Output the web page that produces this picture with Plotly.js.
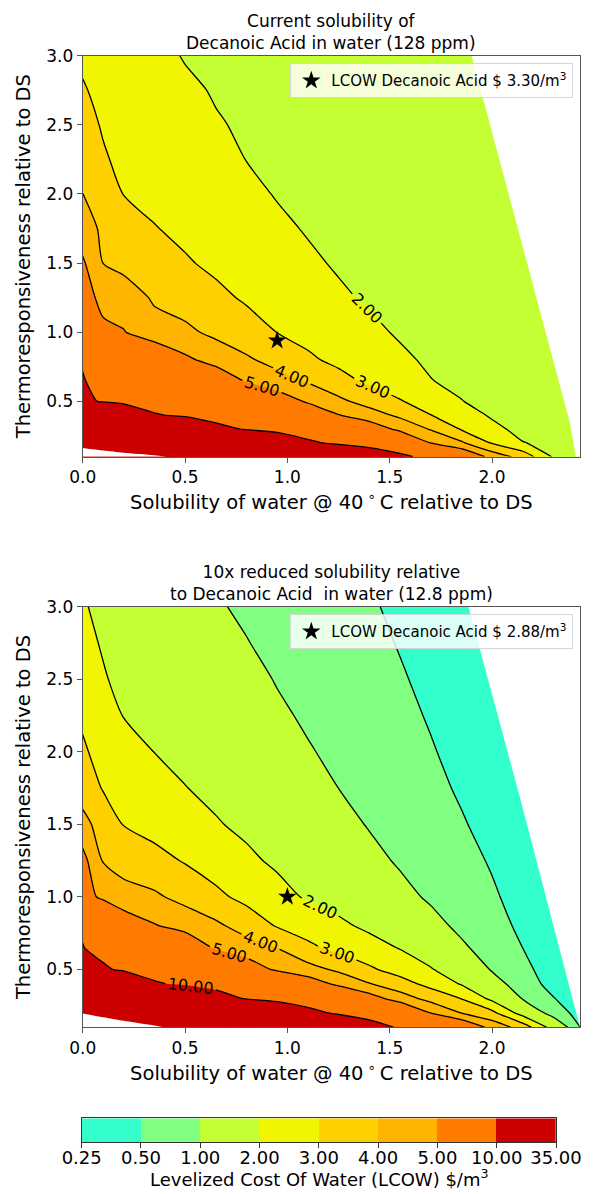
<!DOCTYPE html>
<html>
<head>
<meta charset="utf-8">
<script src="https://cdn.plot.ly/plotly-3.0.1.min.js"></script>
<style>
html,body{margin:0;padding:0;background:#ffffff;}
#chart{width:608px;height:1194px;}
</style>
</head>
<body>
<div id="chart"></div>
<script>
// ---------------- data ----------------
const levels = [0.25, 0.5, 1, 2, 3, 4, 5, 10, 35];
const levelLabels = ['0.25', '0.50', '1.00', '2.00', '3.00', '4.00', '5.00', '10.00', '35.00'];
const bandColors = ['#33ffcc', '#80ff80', '#c4ff33', '#f2f500', '#ffd000', '#ffb400', '#ff7b00', '#cc0000'];

// solubility of water @ 40C relative to DS (x) and thermoresponsiveness (y)
const xSolubility = [0, 0.1, 0.2, 0.35, 0.5, 0.65, 0.8, 0.95, 1.1, 1.25, 1.4, 1.55, 1.7, 1.85, 2.0, 2.15, 2.3, 2.45];
const yThermo = [0.1, 0.2, 0.3, 0.4, 0.5, 0.65, 0.8, 1.0, 1.25, 1.5, 1.75, 2.0, 2.25, 2.5, 2.75, 3.0];

// LCOW ($/m3), current solubility (128 ppm); rows follow yThermo, columns follow xSolubility
const lcowCurrent = [
  [40, 39, 37.8, 36.2, 33.1, 30, 26.8, 23.7, 20.5, 17.4, 14.2, 11.1, 8.5, 6.2, 4.63, 3.63, 1.9, 1.6],
  [32, 30, 28, 25, 22, 19.5, 17, 14, 10.8, 9.11, 7.74, 6.37, 4.98, 4.15, 2.92, 2.03, 1.8, 1.6],
  [27, 24.5, 22, 18.5, 15, 11.2, 9.67, 8.68, 7.68, 6.68, 5.68, 4.75, 3.93, 2.93, 2.22, 1.75, 1.62, 1.5],
  [19, 16, 13, 10.3, 9.39, 8.52, 7.65, 6.78, 5.91, 5.05, 4.44, 3.81, 3.02, 2.41, 1.9, 1.7, 1.55, 1.45],
  [10.5, 9.8, 9.35, 8.6, 7.86, 7.11, 6.36, 5.61, 4.88, 4.22, 3.63, 3.07, 2.55, 2.02, 1.8, 1.62, 1.5, 1.4],
  [10.1, 9.43, 8.77, 7.78, 6.79, 5.79, 4.9, 4.4, 3.89, 3.32, 2.82, 2.42, 2.02, 1.85, 1.7, 1.58, 1.48, 1.4],
  [9.87, 8.97, 8.07, 6.3, 5.2, 4.64, 4.15, 3.65, 3.16, 2.78, 2.45, 2.12, 1.9, 1.78, 1.67, 1.57, 1.48, 1.4],
  [6.5, 5.12, 5.06, 4.3, 4.21, 3.78, 3.38, 2.99, 2.7, 2.42, 2.14, 1.93, 1.82, 1.72, 1.63, 1.55, 1.47, 1.4],
  [5.25, 4.84, 4.43, 3.9, 3.55, 3.21, 2.89, 2.63, 2.37, 2.1, 1.92, 1.83, 1.75, 1.67, 1.6, 1.53, 1.46, 1.4],
  [5.15, 3.99, 3.77, 3.43, 3.09, 2.82, 2.59, 2.35, 2.11, 1.93, 1.84, 1.77, 1.7, 1.64, 1.58, 1.52, 1.46, 1.4],
  [4.4, 3.84, 3.52, 3.04, 2.8, 2.58, 2.35, 2.13, 1.95, 1.87, 1.8, 1.73, 1.67, 1.61, 1.56, 1.5, 1.45, 1.4],
  [4.01, 3.46, 2.98, 2.77, 2.56, 2.36, 2.16, 1.96, 1.88, 1.81, 1.75, 1.69, 1.63, 1.58, 1.53, 1.48, 1.43, 1.38],
  [3.5, 3.06, 2.87, 2.65, 2.43, 2.21, 1.99, 1.9, 1.83, 1.77, 1.71, 1.66, 1.61, 1.56, 1.51, 1.46, 1.41, 1.37],
  [3.2, 2.95, 2.78, 2.54, 2.29, 2.05, 1.92, 1.85, 1.78, 1.72, 1.67, 1.62, 1.58, 1.53, 1.49, 1.44, 1.4, 1.36],
  [3.05, 2.85, 2.67, 2.39, 2.12, 1.95, 1.87, 1.8, 1.74, 1.69, 1.64, 1.59, 1.55, 1.51, 1.47, 1.42, 1.38, 1.34],
  [2.9, 2.7, 2.5, 2.2, 1.96, 1.88, 1.82, 1.76, 1.71, 1.66, 1.61, 1.57, 1.53, 1.49, 1.45, 1.41, 1.37, 1.33]
];

// LCOW ($/m3), 10x reduced solubility (12.8 ppm)
const lcowReduced = [
  [42, 40.5, 38.7, 36.1, 32.7, 29.3, 25.9, 22.5, 19.1, 15.7, 12.3, 9.44, 7.78, 6.11, 4.67, 3.58, 1.57, 0.35],
  [34.7, 32.6, 30.5, 27.3, 24.1, 21, 17.8, 14.7, 11.5, 9.26, 7.84, 6.42, 4.98, 3.98, 3.25, 1.559, 0.75, 0.27],
  [28, 25.6, 23.2, 19.5, 15.8, 12.2, 9.58, 8.56, 7.53, 6.5, 5.48, 4.47, 3.65, 2.963, 1.749, 0.961, 0.515, 0.27],
  [19, 16, 13, 10.4, 9.4, 8.45, 7.51, 6.57, 5.63, 4.76, 4.05, 3.4, 2.7, 1.929, 1.222, 0.733, 0.345, 0.27],
  [11.2, 10.34, 9.6, 8.61, 7.62, 6.62, 5.63, 4.82, 4.35, 3.82, 3.15, 2.59, 2.057, 1.49, 0.953, 0.618, 0.283, 0.27],
  [10.07, 9.23, 8.39, 7.13, 5.87, 4.86, 4.43, 3.98, 3.21, 2.72, 2.34, 1.948, 1.514, 1.081, 0.775, 0.498, 0.387, 0.28],
  [9.74, 7.5, 5.8, 5.07, 4.64, 4.19, 3.59, 2.93, 2.553, 2.176, 1.825, 1.498, 1.17, 0.8875, 0.653, 0.419, 0.325, 0.27],
  [5.6, 4.7, 4.3, 4.15, 3.7, 3.21, 2.738, 2.28, 1.903, 1.654, 1.404, 1.155, 0.928, 0.739, 0.55, 0.361, 0.286, 0.27],
  [5.33, 3.94, 3.69, 3.31, 2.928, 2.544, 2.159, 1.861, 1.623, 1.385, 1.147, 0.94, 0.782, 0.623, 0.465, 0.402, 0.339, 0.276],
  [4.35, 3.53, 2.964, 2.664, 2.364, 2.064, 1.827, 1.608, 1.388, 1.168, 0.966, 0.821, 0.676, 0.531, 0.386, 0.328, 0.28, 0.27],
  [3.5, 2.942, 2.712, 2.366, 2.021, 1.81, 1.607, 1.406, 1.202, 0.998, 0.864, 0.728, 0.592, 0.456, 0.402, 0.348, 0.294, 0.27],
  [3.09, 2.772, 2.452, 1.989, 1.798, 1.607, 1.417, 1.226, 1.036, 0.899, 0.775, 0.651, 0.526, 0.402, 0.352, 0.302, 0.27, 0.27],
  [2.9, 2.38, 1.969, 1.791, 1.613, 1.435, 1.257, 1.078, 0.935, 0.819, 0.703, 0.587, 0.471, 0.425, 0.379, 0.333, 0.29, 0.27],
  [2.159, 2.032, 1.905, 1.714, 1.524, 1.334, 1.143, 0.973, 0.863, 0.752, 0.642, 0.532, 0.421, 0.377, 0.333, 0.29, 0.27, 0.27],
  [2.104, 1.967, 1.831, 1.627, 1.422, 1.218, 1.014, 0.902, 0.797, 0.691, 0.586, 0.481, 0.439, 0.397, 0.355, 0.313, 0.28, 0.27],
  [2.04, 1.893, 1.746, 1.525, 1.304, 1.038, 0.938, 0.837, 0.737, 0.637, 0.536, 0.436, 0.396, 0.356, 0.316, 0.28, 0.27, 0.27]
];

// edge of the feasible region (right side, white beyond it)
const feasibleEdgeCurrentX = [1.9, 2.17, 2.317, 2.38, 2.41];
const feasibleEdgeCurrentY = [3.0, 1.51, 0.71, 0.35, 0.1];
const feasibleEdgeReducedX = [1.885, 2.137, 2.43];
const feasibleEdgeReducedY = [3.0, 1.682, 0.1];

// Decanoic acid reference point
const starCurrentX = [0.95];
const starCurrentY = [0.94];
const starReducedX = [1.0];
const starReducedY = [1.0];
const legendCurrent = 'LCOW Decanoic Acid $ 3.30/m<sup>3</sup>';
const legendReduced = 'LCOW Decanoic Acid $ 2.88/m<sup>3</sup>';

// contour lines drawn, and which carry a label
const linesCurrent = [2, 3, 4, 5, 10];
const labelledCurrent = [2, 3, 4, 5];
const linesReduced = [0.5, 1, 2, 3, 4, 5, 10];
const labelledReduced = [2, 3, 4, 5, 10];

const titleCurrent = 'Current solubility of<br>Decanoic Acid in water (128 ppm)';
const titleReduced = '10x reduced solubility relative<br>to Decanoic Acid\u00a0 in water (12.8 ppm)';
const xTitle = 'Solubility of water @ 40\u2009<sup>\u2218</sup>\u2009C relative to DS';
const yTitle = 'Thermoresponsiveness relative to DS';
const cbTitle = 'Levelized Cost Of Water (LCOW) $/m<sup>3</sup>';

const xRange = [0, 2.43];
const yRange = [0.1, 3.0];

// ---------------- styling / layout ----------------
const W = 608, H = 1194;
const FONT = 'DejaVu Sans, Verdana, sans-serif';
const px2x = p => p / W;
const py2y = p => 1 - p / H;

// stepped colour scale for fill contours (levels every 0.25 from 0.25 to 35)
const cStart = levels[0], cEnd = levels[levels.length - 1], cSize = 0.25;
const nc = Math.round((cEnd - cStart) / cSize) + 1;
const pOf = z => (z - cStart + cSize / 2) / (nc * cSize);
const fillScale = [];
let prevP = 0;
for (let i = 0; i < bandColors.length; i++) {
  const hi = pOf(levels[i + 1]);
  fillScale.push([prevP, bandColors[i]]);
  fillScale.push([hi, bandColors[i]]);
  prevP = hi;
}
fillScale.push([prevP, '#ffffff']);
fillScale.push([1, '#ffffff']);

const SMOOTH = 0.7;

function contourTraces(z, lineLevels, labelled, xa, ya) {
  const out = [];
  out.push({
    type: 'contour', x: xSolubility, y: yThermo, z: z, xaxis: xa, yaxis: ya,
    autocontour: false,
    contours: {start: cStart, end: cEnd, size: cSize, coloring: 'fill', showlines: false},
    colorscale: fillScale, showscale: false,
    line: {width: 0, smoothing: SMOOTH}, hoverinfo: 'skip', showlegend: false
  });
  lineLevels.forEach(L => {
    out.push({
      type: 'contour', x: xSolubility, y: yThermo, z: z, xaxis: xa, yaxis: ya,
      autocontour: false,
      contours: {start: L, end: L, size: 1, coloring: 'none',
        showlabels: labelled.indexOf(L) >= 0, labelformat: '.2f',
        labelfont: {family: FONT, size: 16, color: '#000'}},
      line: {color: '#000', width: 1.3, smoothing: SMOOTH},
      showscale: false, hoverinfo: 'skip', showlegend: false
    });
  });
  return out;
}

function maskTrace(ex, ey, xa, ya) {
  const xs = ex.slice(), ys = ey.slice();
  xs.push(xRange[1] + 0.1, xRange[1] + 0.1);
  ys.push(yRange[0], yRange[1]);
  return {type: 'scatter', mode: 'lines', x: xs, y: ys, fill: 'toself',
    fillcolor: '#ffffff', line: {width: 0, color: '#ffffff'},
    xaxis: xa, yaxis: ya, hoverinfo: 'skip', showlegend: false};
}

function starTrace(sx, sy, name, xa, ya, lg) {
  return {type: 'scatter', mode: 'markers', x: sx, y: sy, name: name,
    marker: {symbol: 'star', size: 14, color: '#000'},
    xaxis: xa, yaxis: ya, legend: lg, showlegend: true, hoverinfo: 'skip'};
}

const traces = [].concat(
  contourTraces(lcowCurrent, linesCurrent, labelledCurrent, 'x', 'y'),
  [maskTrace(feasibleEdgeCurrentX, feasibleEdgeCurrentY, 'x', 'y')],
  [starTrace(starCurrentX, starCurrentY, legendCurrent, 'x', 'y', 'legend')],
  contourTraces(lcowReduced, linesReduced, labelledReduced, 'x2', 'y2'),
  [maskTrace(feasibleEdgeReducedX, feasibleEdgeReducedY, 'x2', 'y2')],
  [starTrace(starReducedX, starReducedY, legendReduced, 'x2', 'y2', 'legend2')]
);

// colour bar drawn as a one-row heatmap
const bandIndex = bandColors.map((c, i) => i);
traces.push({
  type: 'heatmap', x: bandIndex.map(i => i + 0.5), y: [0], z: [bandIndex],
  colorscale: bandColors.map((c, i) => [i / (bandColors.length - 1), c]),
  zmin: 0, zmax: bandColors.length - 1, showscale: false,
  xaxis: 'x3', yaxis: 'y3', hoverinfo: 'skip', showlegend: false
});

const axisLine = '#555555';
const common = {
  showline: true, mirror: true, linecolor: axisLine, linewidth: 1,
  ticks: 'outside', ticklen: 5, tickwidth: 1, tickcolor: axisLine,
  showgrid: false, zeroline: false, tickfont: {family: FONT, size: 17, color: '#000'}
};
const xDom = [px2x(82.7), px2x(580)];
const cbDom = [px2x(81.7), px2x(556)];
function xAxis(anchor) {
  return Object.assign({}, common, {
    domain: xDom, range: xRange, dtick: 0.5, tick0: 0, tickformat: '.1f', anchor: anchor,
    title: {text: xTitle, font: {family: FONT, size: 19.5, color: '#000'}, standoff: 9}
  });
}
function yAxis(dom, anchor) {
  return Object.assign({}, common, {
    domain: dom, range: yRange, dtick: 0.5, tick0: 0, tickformat: '.1f', anchor: anchor,
    title: {text: yTitle, font: {family: FONT, size: 19.5, color: '#000'}, standoff: 10}
  });
}

const legendStyle = {
  xanchor: 'right', yanchor: 'top', bgcolor: 'rgba(255,255,255,0.82)',
  bordercolor: '#d5d5d5', borderwidth: 1, font: {family: FONT, size: 15, color: '#000'},
  itemclick: false, itemdoubleclick: false
};

const layout = {
  width: W, height: H, paper_bgcolor: '#ffffff', plot_bgcolor: '#ffffff',
  margin: {l: 0, r: 0, t: 0, b: 0, pad: 0},
  font: {family: FONT, color: '#000', size: 16},
  showlegend: true,
  xaxis: xAxis('y'),
  yaxis: yAxis([py2y(456.7), py2y(55.7)], 'x'),
  xaxis2: xAxis('y2'),
  yaxis2: yAxis([py2y(1027.3), py2y(606.7)], 'x2'),
  xaxis3: Object.assign({}, common, {
    domain: cbDom, anchor: 'y3', range: [0, bandColors.length],
    tickmode: 'array', tickvals: levels.map((v, i) => i), ticktext: levelLabels,
    linecolor: '#333', tickcolor: '#333', mirror: true, ticklabelstandoff: -6,
    tickfont: {family: FONT, size: 18, color: '#000'}
  }),
  yaxis3: {domain: [py2y(1142.3), py2y(1118.3)], anchor: 'x3', range: [-0.5, 0.5],
    showticklabels: false, ticks: '', showgrid: false, zeroline: false,
    showline: true, mirror: true, linecolor: '#333', linewidth: 1},
  legend: Object.assign({}, legendStyle, {x: px2x(573.3), y: py2y(63.3)}),
  legend2: Object.assign({}, legendStyle, {x: px2x(573.3), y: py2y(614.3)}),
  annotations: [
    {text: titleCurrent, xref: 'paper', yref: 'paper', x: (xDom[0] + xDom[1]) / 2, y: py2y(55),
     xanchor: 'center', yanchor: 'bottom', showarrow: false, font: {family: FONT, size: 17, color: '#000'}},
    {text: titleReduced, xref: 'paper', yref: 'paper', x: (xDom[0] + xDom[1]) / 2, y: py2y(606),
     xanchor: 'center', yanchor: 'bottom', showarrow: false, font: {family: FONT, size: 17, color: '#000'}},
    {text: cbTitle, xref: 'paper', yref: 'paper', x: (cbDom[0] + cbDom[1]) / 2, y: py2y(1178),
     xanchor: 'center', yanchor: 'middle', showarrow: false, font: {family: FONT, size: 18, color: '#000'}}
  ]
};

Plotly.newPlot('chart', traces, layout, {displayModeBar: false, staticPlot: true});
</script>
</body>
</html>
